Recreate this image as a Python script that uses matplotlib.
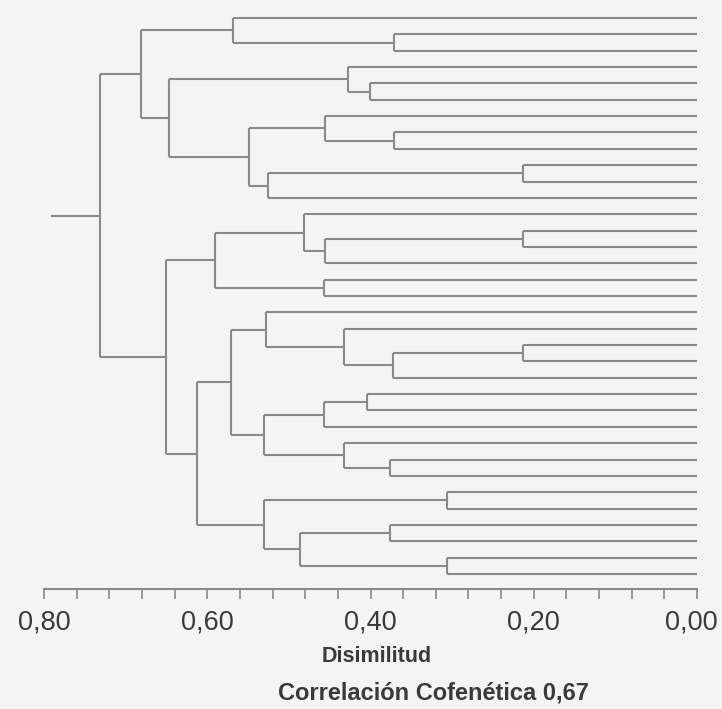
import matplotlib
matplotlib.use('Agg')
import matplotlib.pyplot as plt
import matplotlib.transforms as mtransforms
import numpy as np

plt.rcParams['font.family'] = ['Liberation Sans', 'DejaVu Sans']

# 35 leaves, shown top to bottom in this order (ids 0..34)
n_leaves = 35

# merges, scipy-linkage style: node id = n_leaves + row index
merge_a = [9, 13, 20, 29, 33, 1, 7, 37, 27, 31, 4, 23, 3, 19, 26, 6, 36, 16, 46, 12,
           44, 35, 18, 53, 38, 50, 0, 57, 54, 62, 47, 63, 61, 67]
merge_b = [10, 14, 21, 30, 34, 2, 8, 22, 28, 32, 5, 24, 45, 42, 43, 41, 15, 17, 25, 51,
           39, 11, 48, 49, 55, 56, 40, 58, 52, 59, 60, 64, 65, 66]
merge_h = [0.213, 0.213, 0.213, 0.306, 0.306, 0.371, 0.371, 0.373, 0.376, 0.376,
           0.401, 0.404, 0.428, 0.433, 0.433, 0.456, 0.456, 0.457, 0.457, 0.482,
           0.486, 0.526, 0.528, 0.531, 0.531, 0.549, 0.568, 0.571, 0.591, 0.612,
           0.647, 0.650, 0.681, 0.731]

x_ticks = [0.0, 0.2, 0.4, 0.6, 0.8]
x_ticklabels = ['0,00', '0,20', '0,40', '0,60', '0,80']
x_label = 'Disimilitud'
note = 'Correlación Cofenética 0,67'

line_col = '#8a8a8a'
txt_col = '#3a3a3a'

fig = plt.figure(figsize=(7.22, 7.09), dpi=100, facecolor='#f4f4f4')
top_px, bot_px = 4, 589
ax = fig.add_axes([44 / 722, 1 - bot_px / 709, (697 - 44) / 722, (bot_px - top_px) / 709])
ax.set_facecolor('#f4f4f4')

# positions of leaves and nodes
pos_y = {i: float(i) for i in range(n_leaves)}
pos_x = {i: 0.0 for i in range(n_leaves)}
for k in range(len(merge_a)):
    a, b, h = merge_a[k], merge_b[k], merge_h[k]
    node = n_leaves + k
    ya, yb = pos_y[a], pos_y[b]
    ax.plot([pos_x[a], h], [ya, ya], color=line_col, lw=1.5, solid_capstyle='butt')
    ax.plot([pos_x[b], h], [yb, yb], color=line_col, lw=1.5, solid_capstyle='butt')
    ax.plot([h, h], [ya, yb], color=line_col, lw=1.5, solid_capstyle='butt')
    pos_y[node] = (ya + yb) / 2
    pos_x[node] = h

# stub to the left of the root
root = n_leaves + len(merge_a) - 1
ax.plot([merge_h[-1], 0.79], [pos_y[root], pos_y[root]], color=line_col, lw=1.5)

spacing = 16.35
ax.set_ylim(34 + (bot_px - 574) / spacing, -(18 - top_px) / spacing)
ax.set_xlim(0.8, 0.0)

for s in ['top', 'left', 'right']:
    ax.spines[s].set_visible(False)
ax.spines['bottom'].set_color(line_col)
ax.spines['bottom'].set_linewidth(1.5)

ax.set_yticks([])
ax.set_xticks(x_ticks)
ax.set_xticklabels(x_ticklabels, fontsize=19.5, color=txt_col)
ax.set_xticks(np.arange(0, 0.81, 0.04), minor=True)
ax.tick_params(axis='x', which='both', direction='out', length=7, width=1.2,
               color=line_col, pad=8)

# keep the right-most label inside the picture
lab0 = ax.get_xticklabels()[0]
lab0.set_transform(lab0.get_transform() +
                   mtransforms.ScaledTranslation(-4 / 72, 0, fig.dpi_scale_trans))

fig.text(377 / 722, 1 - 657 / 709, x_label, ha='center', va='center',
         fontsize=15.5, fontweight='bold', color=txt_col)
fig.text(433 / 722, 1 - 693 / 709, note, ha='center', va='center',
         fontsize=17, fontweight='bold', color=txt_col)

fig.savefig('out.png', dpi=100, facecolor=fig.get_facecolor())
